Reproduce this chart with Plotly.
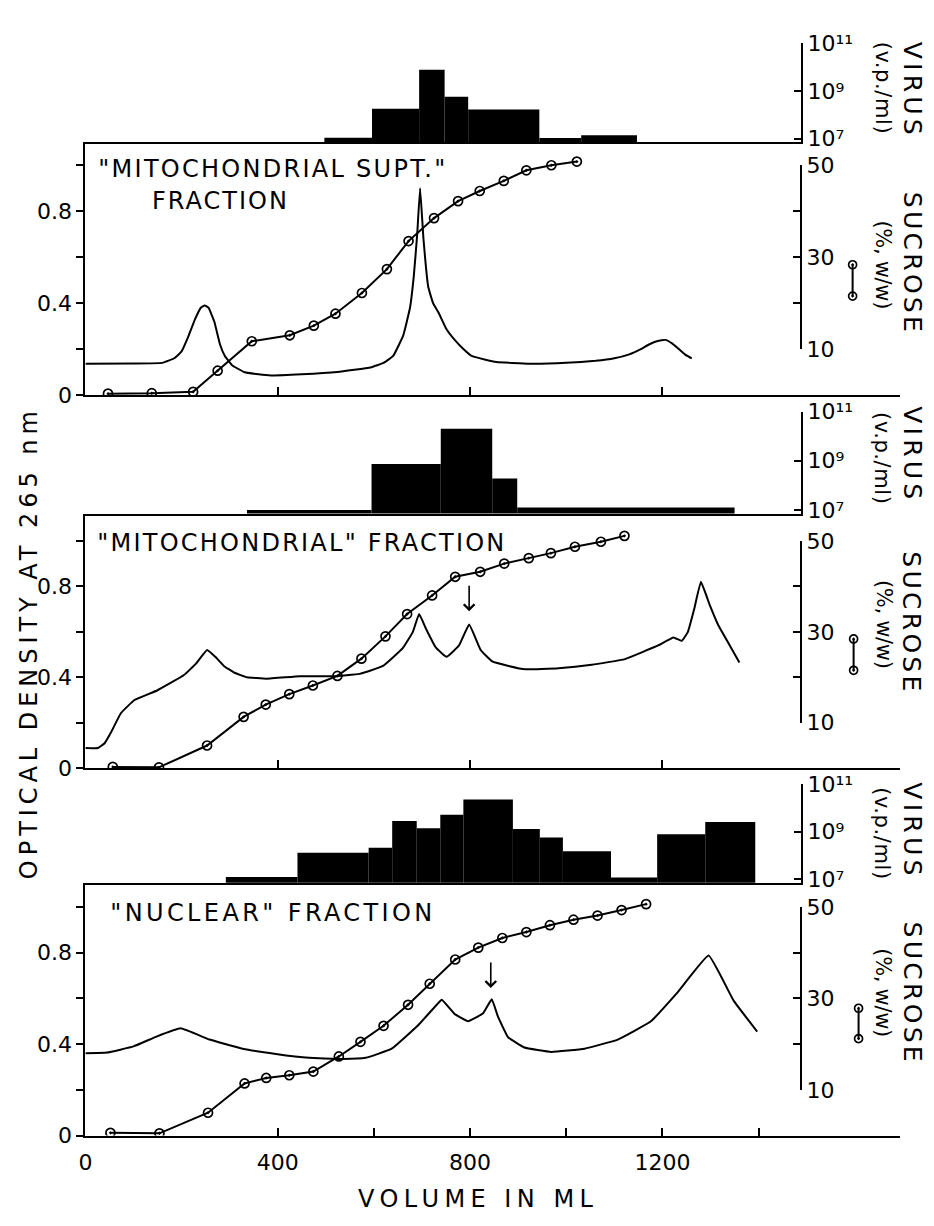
import json
import plotly.graph_objects as go

# ---------------- data ----------------
# Panel 1 : "MITOCHONDRIAL SUPT." fraction
vol_od_1 = [0, 100, 160, 185, 200, 215, 228, 240, 248, 256, 268, 280, 290, 305, 330, 360, 386, 450,
            524, 593, 620, 640, 661, 675, 683, 690, 696, 703, 713, 723, 734, 750, 768, 786, 803, 830,
            855, 923, 1000, 1061, 1100, 1131, 1155, 1172, 1190, 1206, 1220, 1234, 1248, 1261]
od_1 = [0.136, 0.137, 0.14, 0.16, 0.19, 0.26, 0.33, 0.38, 0.39, 0.38, 0.32, 0.22, 0.17, 0.13, 0.10,
        0.09, 0.085, 0.09, 0.10, 0.12, 0.14, 0.17, 0.26, 0.38, 0.52, 0.70, 0.90, 0.68, 0.47, 0.40,
        0.36, 0.29, 0.24, 0.20, 0.17, 0.155, 0.144, 0.136, 0.14, 0.149, 0.16, 0.177, 0.20, 0.22,
        0.235, 0.24, 0.225, 0.20, 0.175, 0.16]
vol_suc_1 = [47, 138, 224, 275, 346, 425, 475, 520, 575, 627, 672, 725, 775, 820, 870, 917, 969, 1022]
suc_1 = [0.3, 0.4, 0.7, 5.3, 11.7, 13.0, 15.1, 17.7, 22.2, 27.4, 33.5, 38.5, 42.2, 44.4, 46.6,
         48.9, 50.0, 50.8]
virus_edges_1 = [497, 596, 694, 747, 796, 944, 1031, 1147]
virus_1 = [1.1e7, 1.8e8, 7.9e9, 5.8e8, 1.7e8, 1.07e7, 1.4e7]

# Panel 2 : "MITOCHONDRIAL" fraction
vol_od_2 = [0, 26, 40, 53, 74, 102, 150, 205, 230, 253, 270, 288, 310, 336, 377, 446, 515, 570, 619,
            660, 681, 694, 709, 729, 751, 777, 798, 822, 846, 880, 915, 984, 1053, 1122, 1191, 1223,
            1240, 1253, 1266, 1280, 1298, 1316, 1340, 1360]
od_2 = [0.089, 0.089, 0.11, 0.157, 0.243, 0.30, 0.343, 0.41, 0.46, 0.52, 0.49, 0.45, 0.42, 0.40,
        0.394, 0.405, 0.405, 0.415, 0.45, 0.528, 0.60, 0.678, 0.61, 0.53, 0.49, 0.54, 0.632, 0.52,
        0.47, 0.45, 0.435, 0.44, 0.455, 0.48, 0.54, 0.575, 0.56, 0.60, 0.70, 0.82, 0.72, 0.63, 0.54,
        0.465]
vol_suc_2 = [57, 153, 253, 329, 375, 424, 473, 524, 574, 624, 669, 721, 769, 821, 871, 922, 968,
             1018, 1072, 1121]
suc_2 = [0.3, 0.2, 5.0, 11.3, 14.0, 16.3, 18.2, 20.3, 24.1, 29.0, 33.9, 38.0, 42.1, 43.2, 45.0,
         46.2, 47.3, 48.7, 49.8, 51.1]
virus_edges_2 = [336, 595, 739, 846, 898, 1350]
virus_2 = [1.0e7, 7.4e8, 2.0e10, 1.9e8, 1.25e7]

# Panel 3 : "NUCLEAR" fraction
vol_od_3 = [0, 45, 100, 148, 198, 258, 327, 396, 465, 534, 583, 637, 693, 734, 741, 769, 796, 827,
            845, 858, 879, 913, 969, 1038, 1107, 1176, 1231, 1296, 1348, 1397]
od_3 = [0.36, 0.363, 0.39, 0.433, 0.469, 0.42, 0.38, 0.357, 0.34, 0.335, 0.34, 0.38, 0.485, 0.58,
        0.594, 0.53, 0.50, 0.535, 0.596, 0.52, 0.43, 0.385, 0.366, 0.38, 0.42, 0.50, 0.625, 0.787,
        0.59, 0.455]
vol_suc_3 = [52, 154, 255, 331, 376, 424, 474, 527, 572, 620, 671, 716, 769, 817, 867, 917, 966,
             1015, 1065, 1115, 1166]
suc_3 = [0.6, 0.5, 5.0, 11.4, 12.6, 13.2, 14.0, 17.3, 20.5, 24.0, 28.6, 33.2, 38.5, 41.1, 43.2,
         44.5, 46.0, 47.2, 48.1, 49.3, 50.6]
virus_edges_3 = [292, 441, 589, 638, 689, 738, 786, 889, 945, 993, 1093, 1189, 1289, 1393]
virus_3 = [1.26e7, 1.3e8, 2.1e8, 2.8e9, 1.4e9, 5.1e9, 2.2e10, 1.3e9, 5.6e8, 1.5e8, 1.2e7, 7.8e8, 2.5e9]

# arrows marking a peak (panels 2 and 3)
arrow_vol = [None, 798, 843]
arrow_od = [None, 0.69, 0.645]

# titles / labels / ticks
panel_titles = [['"MITOCHONDRIAL SUPT."', 'FRACTION'],
                ['"MITOCHONDRIAL" FRACTION'],
                ['"NUCLEAR" FRACTION']]
od_ticks = [0, 0.4, 0.8]
od_tick_text = ["0", "0.4", "0.8"]
od_minor_ticks = [0.2, 0.6, 1.0]
suc_ticks = [10, 30, 50]
suc_tick_text = ["10", "30", "50"]
suc_minor_ticks = [20, 40]
virus_ticks = [1e7, 1e9, 1e11]
virus_tick_text = ["10\u2077", "10\u2079", "10\u00b9\u00b9"]
vol_ticks_top = [400, 800, 1200]
vol_ticks_bottom = [0, 400, 800, 1200]
vol_tick_text_bottom = ["0", "400", "800", "1200"]
vol_minor_bottom = [600, 1000, 1400]
legend_key_x = [0, 0]
legend_key_y = [0, 1]
SUC_PER_OD = 50.0   # right sucrose scale: 10 % <-> 0.2 OD, 50 % <-> 1.0 OD

# ---------------- geometry (pixels of the 934 x 1226 page) ----------------
W, H = 934, 1226
FONT = "DejaVu Sans"
X0 = 79            # pixel of 0 ml
PX_PER_ML = 0.4845
X_RIGHT_AXIS = 800
X_BASE_END = 900
panels = [
    dict(hist_top=32, split=133, bottom=391, od_max=1.10, legend=(852, 258, 290),
         titles=[(266.5, 160), (214.5, 193)], virus_y=78, vp_y=77, suc_y=255, ww_y=258),
    dict(hist_top=408, split=512, bottom=772, od_max=1.12, legend=(853, 640, 672),
         titles=[(296.5, 542)], virus_y=450, vp_y=455, suc_y=622, ww_y=625),
    dict(hist_top=788, split=889, bottom=1147, od_max=1.105, legend=(858, 1017, 1048),
         titles=[(266, 920)], virus_y=834, vp_y=838, suc_y=1000, ww_y=1001),
]
data = [
    (vol_od_1, od_1, vol_suc_1, suc_1, virus_edges_1, virus_1),
    (vol_od_2, od_2, vol_suc_2, suc_2, virus_edges_2, virus_2),
    (vol_od_3, od_3, vol_suc_3, suc_3, virus_edges_3, virus_3),
]


def px2x(p):
    return p / W


def py2y(p):
    return 1 - p / H


def xid(n):
    return 'x' if n == 1 else f'x{n}'


def yid(n):
    return 'y' if n == 1 else f'y{n}'


def xkey(n):
    return 'xaxis' if n == 1 else f'xaxis{n}'


def ykey(n):
    return 'yaxis' if n == 1 else f'yaxis{n}'


fig = go.Figure()
layout = dict(width=W, height=H, margin=dict(l=0, r=0, t=0, b=0), paper_bgcolor='white',
              plot_bgcolor='rgba(0,0,0,0)', showlegend=False,
              font=dict(family=FONT, size=22, color='black'))
annotations = []

hist_x_range = [0, (X_RIGHT_AXIS - X0) / PX_PER_ML]
main_x_range = [0, (X_BASE_END - X0) / PX_PER_ML]
hist_x_dom = [px2x(X0), px2x(X_RIGHT_AXIS)]
main_x_dom = [px2x(X0), px2x(X_BASE_END)]
axis_common = dict(showgrid=False, zeroline=False, linecolor='black', linewidth=2,
                   tickcolor='black', tickwidth=2, fixedrange=True)


def minor(vals, where, length):
    return dict(tickvals=vals, ticks=where, ticklen=length, tickwidth=2, tickcolor='black',
                showgrid=False)


for i, (P, D) in enumerate(zip(panels, data)):
    vol_od, od, vol_suc, suc, edges, virus = D
    xh, xm, xl = 3 * i + 1, 3 * i + 2, 3 * i + 3
    yh, ym, ys, yb, yl = 5 * i + 1, 5 * i + 2, 5 * i + 3, 5 * i + 4, 5 * i + 5
    is_bottom = (i == 2)

    # ---- virus histogram ----
    centers = [(a + b) / 2 for a, b in zip(edges[:-1], edges[1:])]
    widths = [b - a for a, b in zip(edges[:-1], edges[1:])]
    fig.add_trace(go.Bar(x=centers, y=virus, width=widths,
                         marker=dict(color='black', line=dict(width=0)),
                         xaxis=xid(xh), yaxis=yid(yh), hoverinfo='skip'))
    layout[xkey(xh)] = dict(axis_common, domain=hist_x_dom, range=hist_x_range, anchor=yid(yh),
                            showline=True, ticks='', showticklabels=False)
    layout[ykey(yh)] = dict(axis_common, domain=[py2y(P['split']), py2y(P['hist_top'])],
                            type='log', range=[6.85, 11], anchor=xid(xh), side='right',
                            showline=True, ticks='inside', ticklen=7, tickvals=virus_ticks,
                            ticktext=virus_tick_text, tickfont=dict(size=22))

    # ---- optical density ----
    fig.add_trace(go.Scatter(x=vol_od, y=od, mode='lines',
                             line=dict(color='black', width=2, shape='spline', smoothing=0.3),
                             xaxis=xid(xm), yaxis=yid(ym), hoverinfo='skip'))
    xm_axis = dict(axis_common, domain=main_x_dom, range=main_x_range, anchor=yid(ym),
                   showline=True, ticks='inside', ticklen=8)
    if is_bottom:
        xm_axis.update(tickvals=vol_ticks_bottom, ticktext=vol_tick_text_bottom,
                       showticklabels=True, ticklabelstandoff=6,
                       minor=minor(vol_minor_bottom, 'inside', 8))
    else:
        xm_axis.update(tickvals=vol_ticks_top, showticklabels=False)
    layout[xkey(xm)] = xm_axis
    layout[ykey(ym)] = dict(axis_common, domain=[py2y(P['bottom']), py2y(P['split'])],
                            range=[0, P['od_max']], anchor=xid(xm), side='left', showline=True,
                            ticks='outside', ticklen=7, tickvals=od_ticks, ticktext=od_tick_text,
                            minor=minor(od_minor_ticks, 'outside', 7))

    # ---- sucrose ----
    fig.add_trace(go.Scatter(x=vol_suc, y=suc, mode='lines+markers',
                             line=dict(color='black', width=2),
                             marker=dict(symbol='circle-open-dot', size=9, color='black',
                                         line=dict(width=1.7, color='black')),
                             xaxis=xid(xm), yaxis=yid(ys), hoverinfo='skip'))
    layout[ykey(ys)] = dict(domain=[py2y(P['bottom']), py2y(P['split'])],
                            range=[0, SUC_PER_OD * P['od_max']], overlaying=yid(ym),
                            anchor=xid(xm), visible=False, fixedrange=True)
    s = (P['bottom'] - P['split']) / P['od_max']
    p10 = P['bottom'] - (suc_ticks[0] / SUC_PER_OD) * s
    p50 = P['bottom'] - (suc_ticks[-1] / SUC_PER_OD) * s
    fig.add_trace(go.Scatter(x=[], y=[], xaxis=xid(xm), yaxis=yid(yb), hoverinfo='skip'))
    layout[ykey(yb)] = dict(axis_common, domain=[py2y(p10), py2y(p50)],
                            range=[suc_ticks[0], suc_ticks[-1]], anchor='free',
                            position=px2x(X_RIGHT_AXIS), side='right', showline=True,
                            ticks='inside', ticklen=7, tickvals=suc_ticks, ticktext=suc_tick_text,
                            minor=minor(suc_minor_ticks, 'inside', 7))

    # ---- sucrose key glyph ----
    lx, ly0, ly1 = P['legend']
    layout[xkey(xl)] = dict(domain=[px2x(lx - 6), px2x(lx + 6)], range=[-1, 1], visible=False,
                            anchor=yid(yl), fixedrange=True)
    layout[ykey(yl)] = dict(domain=[py2y(ly1), py2y(ly0)], range=[0, 1], visible=False,
                            anchor=xid(xl), fixedrange=True)
    fig.add_trace(go.Scatter(x=legend_key_x, y=legend_key_y, mode='lines+markers',
                             line=dict(color='black', width=2), cliponaxis=False,
                             marker=dict(symbol='circle-open-dot', size=8, color='black',
                                         line=dict(width=1.7, color='black')),
                             xaxis=xid(xl), yaxis=yid(yl), hoverinfo='skip'))

    # ---- texts ----
    for txt, (tx, ty) in zip(panel_titles[i], P['titles']):
        annotations.append(dict(text=txt, x=px2x(tx), y=py2y(ty), xref='paper', yref='paper',
                                showarrow=False, xanchor='center', yanchor='middle',
                                font=dict(size=24)))
    for txt, tx, ty, fs in [('VIRUS', 912, P['virus_y'], 25), ('(v.p./ml)', 882, P['vp_y'], 21),
                            ('SUCROSE', 912, P['suc_y'], 25), ('(%, w/w)', 883, P['ww_y'], 21)]:
        annotations.append(dict(text=txt, x=px2x(tx), y=py2y(ty), xref='paper', yref='paper',
                                showarrow=False, xanchor='center', yanchor='middle',
                                textangle=90, font=dict(size=fs)))
    if arrow_vol[i] is not None:
        annotations.append(dict(x=arrow_vol[i], y=arrow_od[i], xref=xid(xm), yref=yid(ym),
                                text='', showarrow=True, ax=0, ay=-27, arrowhead=4,
                                arrowsize=1.3, arrowwidth=1.6, arrowcolor='black'))

annotations.append(dict(text='OPTICAL DENSITY AT 265 nm', x=px2x(22), y=py2y(646), xref='paper',
                        yref='paper', showarrow=False, xanchor='center', yanchor='middle',
                        textangle=-90, font=dict(size=24)))
annotations.append(dict(text='VOLUME IN ML', x=px2x(472), y=py2y(1212), xref='paper',
                        yref='paper', showarrow=False, xanchor='center', yanchor='middle',
                        font=dict(size=24)))
layout['annotations'] = annotations
fig.update_layout(**layout)

# widened lettering, as in the hand-lettered original (native SVG textLength)
spacing_targets = {
    '"MITOCHONDRIAL SUPT."': 347, 'FRACTION': 135, '"MITOCHONDRIAL" FRACTION': 407,
    '"NUCLEAR" FRACTION': 322, 'VOLUME IN ML': 235, 'OPTICAL DENSITY AT 265 nm': 468,
    'VIRUS': 93, '(v.p./ml)': 92, 'SUCROSE': 140, '(%, w/w)': 89,
}
post = """
document.body.style.margin = '0';
var gd = document.getElementById('{plot_id}');
var T = %s;
gd.querySelectorAll('text.annotation-text').forEach(function(t){
  var k = t.textContent;
  if (Object.prototype.hasOwnProperty.call(T, k)) {
    t.setAttribute('lengthAdjust', 'spacing');
    t.setAttribute('textLength', String(T[k]));
  }
});
""" % json.dumps(spacing_targets)

fig.write_html("out.html", post_script=post, config={'displayModeBar': False})
